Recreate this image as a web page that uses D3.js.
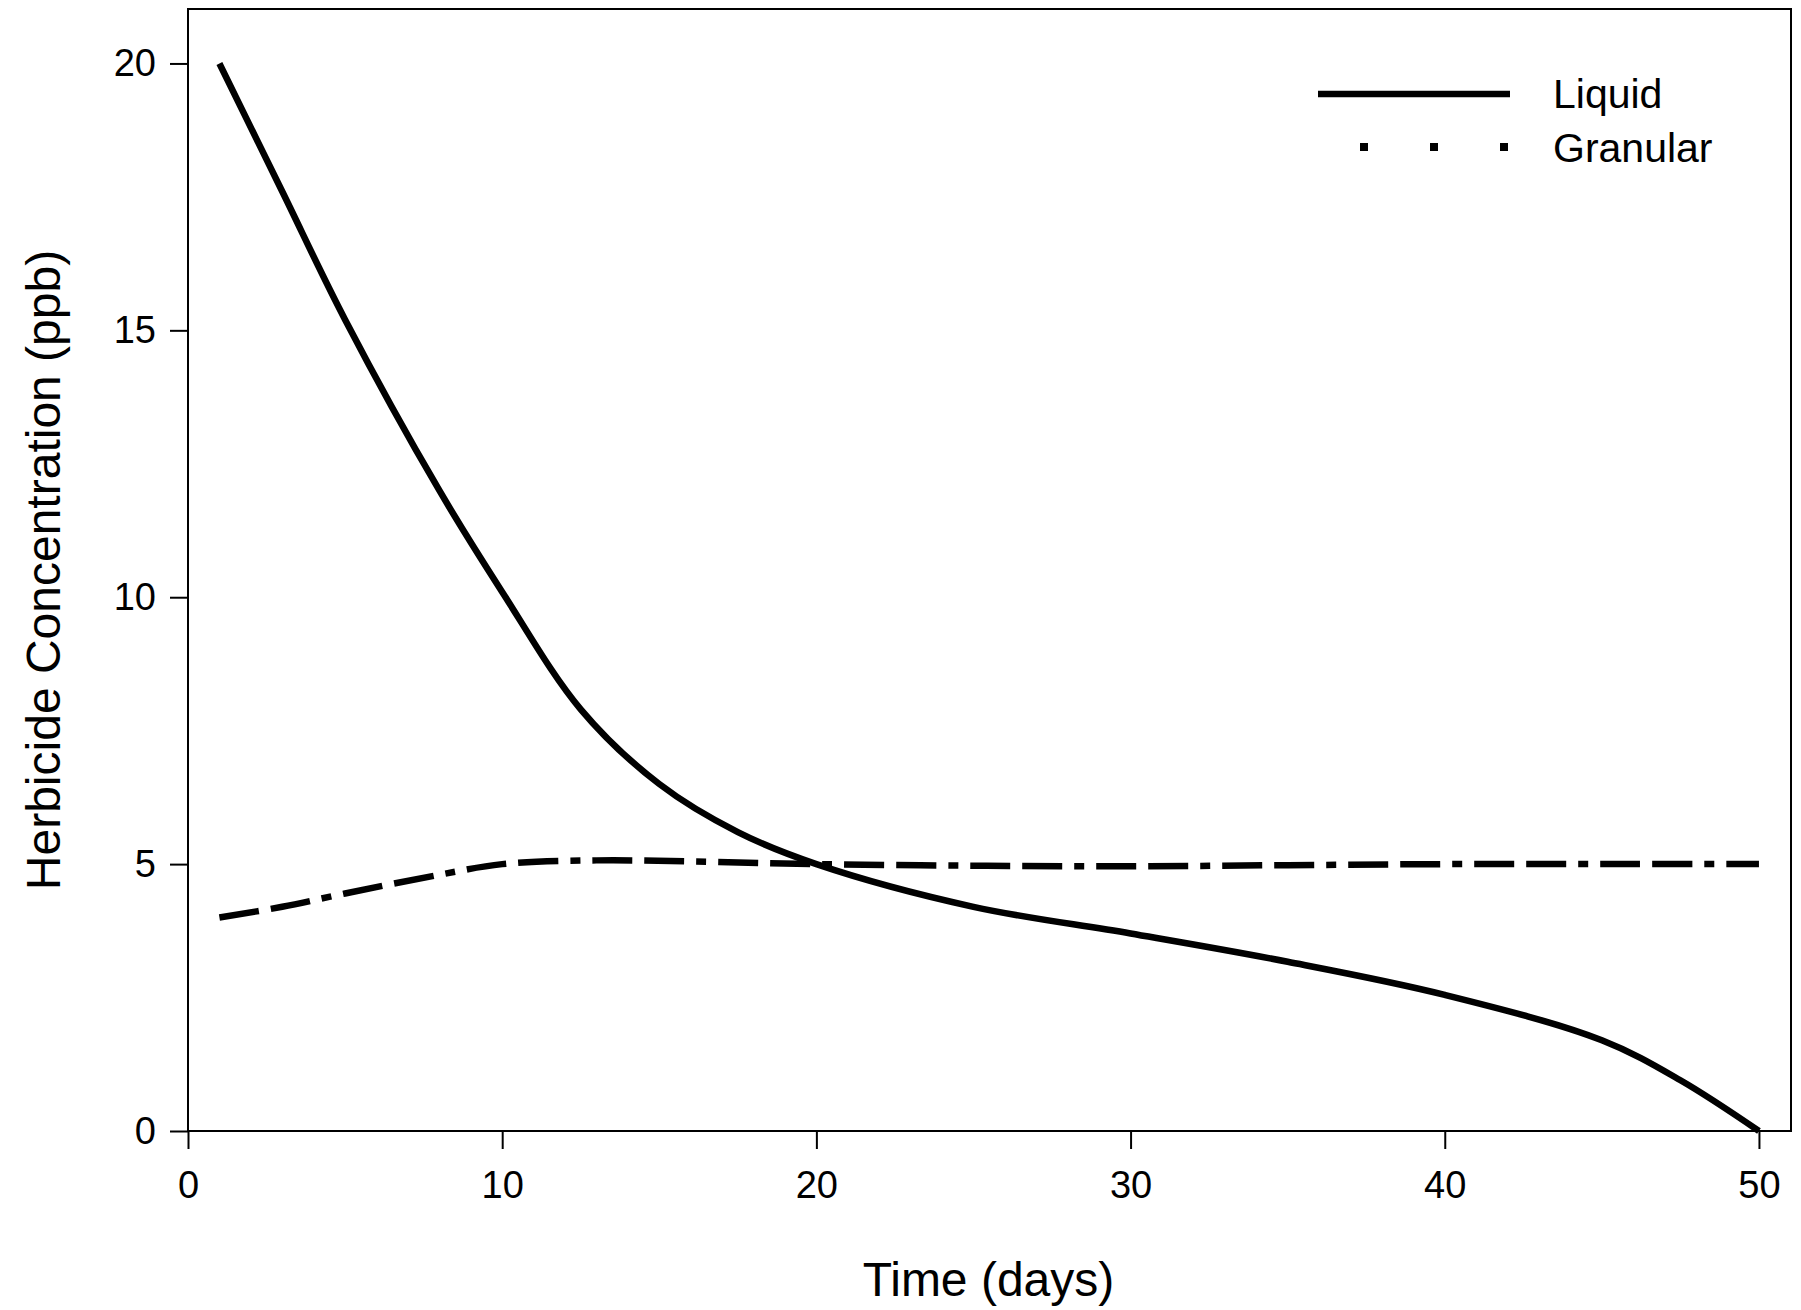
<!DOCTYPE html>
<html><head><meta charset="utf-8">
<script src="https://cdn.jsdelivr.net/npm/d3@7"></script>
<style>body{margin:0;background:#fff}text{font-family:"Liberation Sans",Arial,sans-serif}</style>
</head><body><svg id="c" width="1801" height="1310"></svg>
<script>
const liquidX=[1,3,5,8,10,12.5,15,17.5,20,25,30,35,40,45,47.5,50];
const liquidY=[20,17.6,15.2,12.0,10.1,7.9,6.5,5.6,5.0,4.2,3.7,3.17,2.55,1.7,0.95,0];
const granX=[1,3,5,8,10,13,16,20,25,30,35,40,45,50];
const granY=[4.0,4.2,4.45,4.8,5.0,5.07,5.05,5.0,4.97,4.96,4.98,5.0,5.0,5.0];
const xTicks=[0,10,20,30,40,50], yTicks=[0,5,10,15,20];
const L=188,R=1791,T=9,B=1131;
const svg=d3.select("#c");
const x=d3.scaleLinear().domain([0,51.02]).range([L,R]);
const y=d3.scaleLinear().domain([0,21.02]).range([B,T]);
const xa=svg.append("g").attr("transform",`translate(0,${B})`).call(d3.axisBottom(x).tickValues(xTicks).tickSize(18).tickPadding(22).tickSizeOuter(0));
const ya=svg.append("g").attr("transform",`translate(${L},0)`).call(d3.axisLeft(y).tickValues(yTicks).tickSize(18).tickPadding(14).tickSizeOuter(0));
[xa,ya].forEach(a=>{a.selectAll("text").attr("font-size",38).attr("fill","#000");a.selectAll("line").attr("stroke-width",2);a.select(".domain").remove();});
svg.append("rect").attr("x",L).attr("y",T).attr("width",R-L).attr("height",B-T).attr("fill","none").attr("stroke","#000").attr("stroke-width",2);
const line=d3.line().curve(d3.curveCatmullRom.alpha(0.5));
svg.append("path").attr("d",line(granX.map((d,i)=>[x(d),y(granY[i])]))).attr("fill","none").attr("stroke","#000").attr("stroke-width",6.5).attr("stroke-dasharray","40,12,40,12,10,12");
svg.append("path").attr("d",line(liquidX.map((d,i)=>[x(d),y(liquidY[i])]))).attr("fill","none").attr("stroke","#000").attr("stroke-width",6.5);
svg.append("line").attr("x1",1318).attr("x2",1510).attr("y1",94).attr("y2",94).attr("stroke","#000").attr("stroke-width",6.5);
svg.append("line").attr("x1",1360).attr("x2",1510).attr("y1",147).attr("y2",147).attr("stroke","#000").attr("stroke-width",8).attr("stroke-dasharray","8,62");
svg.append("text").attr("x",1553).attr("y",108).attr("font-size",41).text("Liquid");
svg.append("text").attr("x",1553).attr("y",162).attr("font-size",41).text("Granular");
svg.append("text").attr("x",(L+x(50))/2+15).attr("y",1296).attr("text-anchor","middle").attr("font-size",48).text("Time (days)");
svg.append("text").attr("transform",`translate(60,${(T+B)/2}) rotate(-90)`).attr("text-anchor","middle").attr("font-size",48).text("Herbicide Concentration (ppb)");
</script></body></html>
